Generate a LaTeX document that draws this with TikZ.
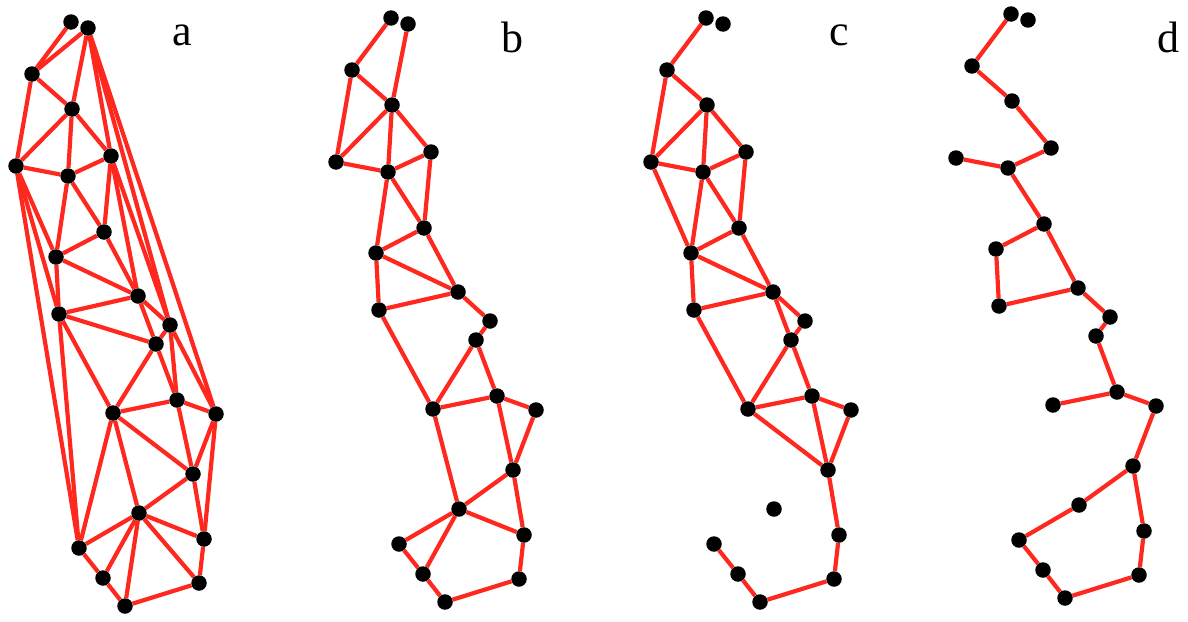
\documentclass[tikz,border=0pt]{standalone}
\usepackage{fontspec}
\setmainfont{Liberation Serif}
\definecolor{redline}{RGB}{255,40,30}
\pgfdeclarelayer{bg}
\pgfsetlayers{bg,main}
\tikzset{
  dot/.style={circle,fill=black,inner sep=0pt,minimum size=15.5pt},
  edge/.style={draw=redline,line width=4.2pt},
  lbl/.style={font=\fontsize{44}{44}\selectfont,anchor=base,inner sep=0pt}
}
\newcommand{\ptlist}{1/71/22,2/88/28,3/32/74,4/72/109,5/16/166,6/68/176,7/111/156,8/104/232,9/56/257,10/138/296,11/59/314,12/170/325,13/156/344,14/113/413,15/177/400,16/216/414,17/193/474,18/139/513,19/204/539,20/79/548,21/103/578,22/125/606,23/199/583}
\newcommand{\placepts}[1]{\foreach \i/\px/\py in \ptlist {\node[dot] (#1\i) at (\px,\py) {};}}
\newcommand{\drawedges}[2]{\begin{pgfonlayer}{bg}\foreach \u/\v in {#2} {\draw[edge] (#1\u) -- (#1\v);}\end{pgfonlayer}}
\begin{document}
\begin{tikzpicture}[x=1pt,y=-1pt]
\begin{pgfonlayer}{bg}
\fill[white] (0,0) rectangle (1188,621);
\end{pgfonlayer}
\useasboundingbox (0,0) rectangle (1188,621);
% panel a
\begin{scope}
\placepts{a}
\drawedges{a}{1/3,2/3,2/4,2/7,2/12,2/16,3/4,3/5,4/5,4/6,4/7,5/6,5/9,5/11,5/20,6/7,6/8,6/9,7/8,7/10,7/12,8/9,8/10,9/10,9/11,10/11,10/12,10/13,11/13,11/14,11/20,12/13,12/15,12/16,13/14,13/15,14/15,14/17,14/18,14/20,15/16,15/17,16/17,16/19,17/18,17/19,18/19,18/20,18/21,18/22,18/23,19/23,20/21,21/22,22/23}
\end{scope}
% panel b
\begin{scope}[shift={(320,-4)}]
\placepts{b}
\drawedges{b}{1/3,2/4,3/4,3/5,4/5,4/6,4/7,5/6,6/7,6/8,7/8,6/9,8/9,8/10,9/10,9/11,10/11,10/12,12/13,11/14,13/14,13/15,14/15,15/16,15/17,16/17,14/18,17/18,17/19,18/19,18/20,18/21,20/21,21/22,22/23,19/23}
\end{scope}
% panel c
\begin{scope}[shift={(635,-4)}]
\placepts{c}
\drawedges{c}{1/3,3/4,3/5,4/5,4/6,4/7,5/6,6/7,5/9,6/9,6/8,7/8,8/9,9/10,8/10,9/11,10/11,10/12,10/13,12/13,11/14,13/14,13/15,14/15,14/17,15/17,15/16,16/17,17/19,19/23,22/23,21/22,20/21}
\end{scope}
% panel d
\begin{scope}[shift={(940,-8)}]
\placepts{d}
\drawedges{d}{1/3,3/4,4/7,6/7,5/6,6/8,8/9,8/10,9/11,10/11,10/12,12/13,13/15,14/15,15/16,16/17,17/18,17/19,18/20,20/21,21/22,22/23,19/23}
\end{scope}
\node[lbl] (la) at (182,45) {a};
\node[lbl] (lb) at (512,52) {b};
\node[lbl] (lc) at (839,45) {c};
\node[lbl] (ld) at (1168,52) {d};
\end{tikzpicture}
\end{document}
